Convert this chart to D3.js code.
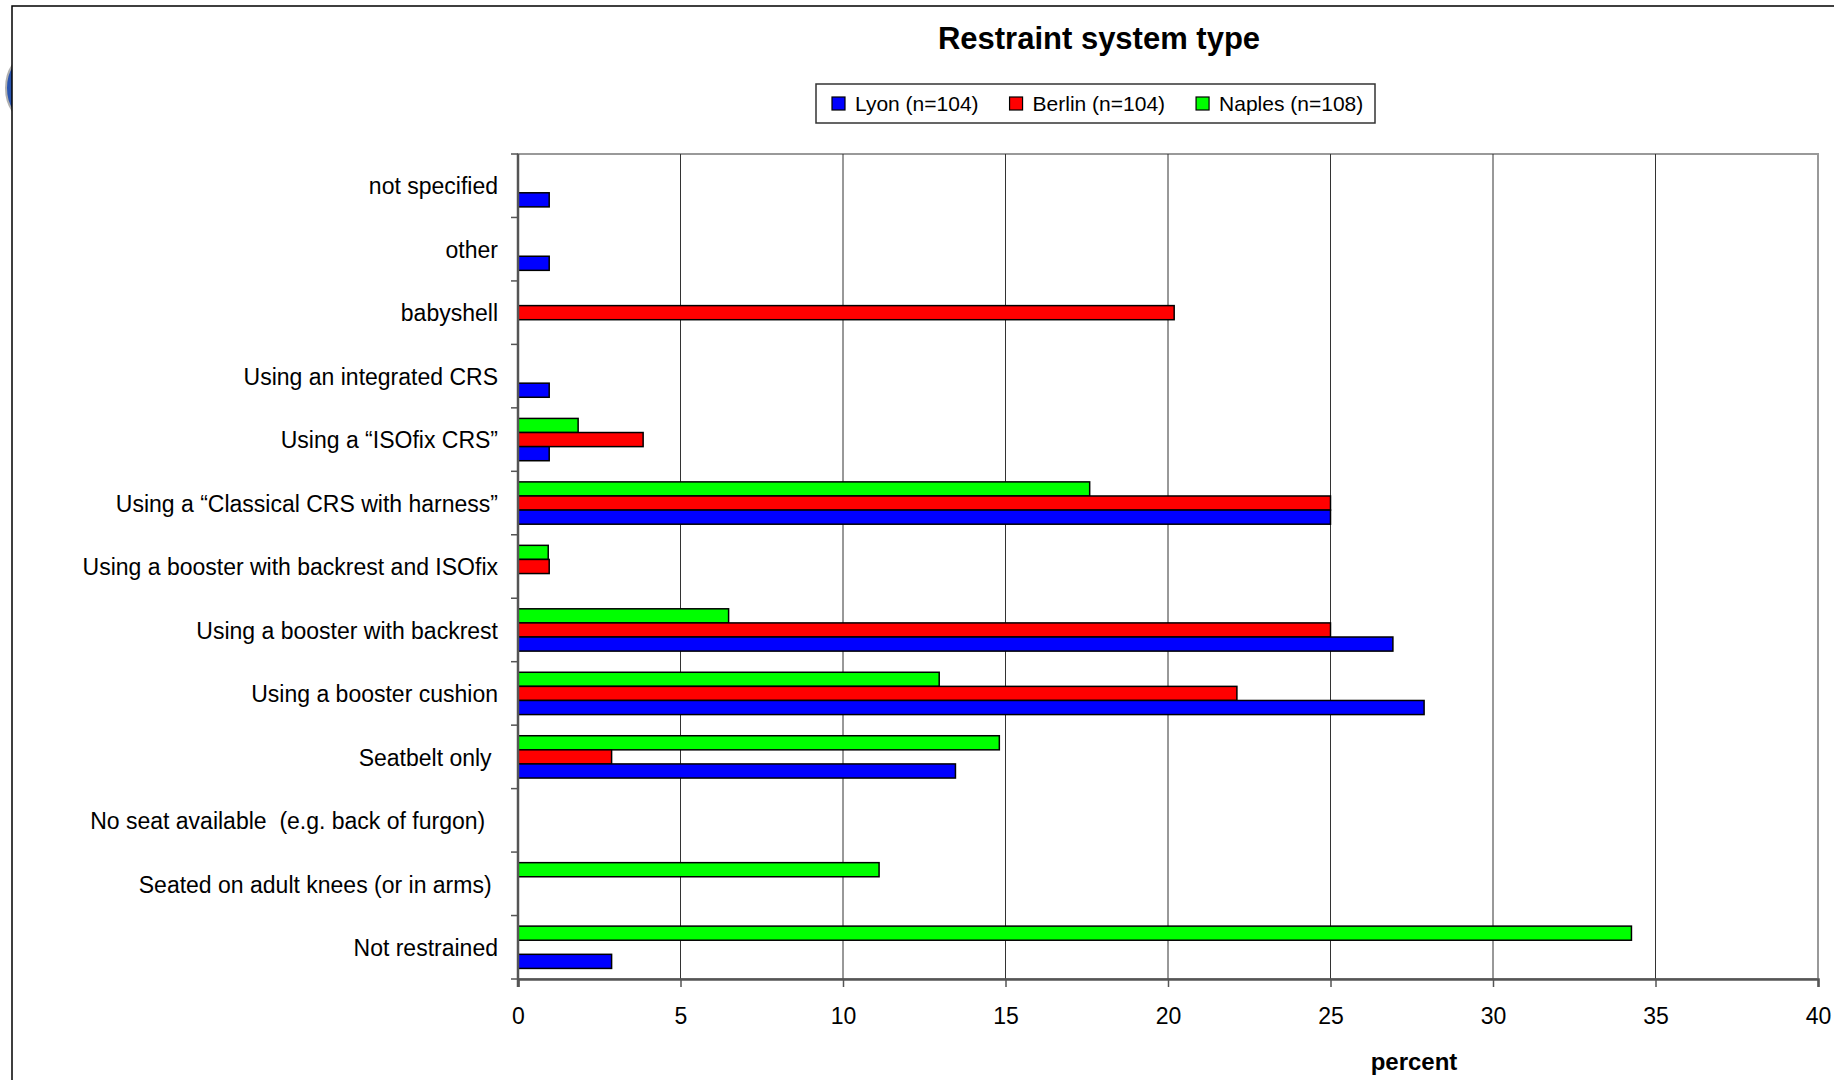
<!DOCTYPE html>
<html>
<head>
<meta charset="utf-8">
<script src="https://cdn.jsdelivr.net/npm/d3@7"></script>
<style>
  html, body { margin: 0; padding: 0; background: #fff; overflow: hidden; }
  svg { display: block; font-family: "Liberation Sans", Arial, sans-serif; }
  text { white-space: pre; }
</style>
</head>
<body>
<svg id="chart" width="1834" height="1080"></svg>
<script>
// ---- data (top to bottom) ----
const categories = [
  "not specified",
  "other",
  "babyshell",
  "Using an integrated CRS",
  "Using a \u201CISOfix CRS\u201D",
  "Using a \u201CClassical CRS with harness\u201D",
  "Using a booster with backrest and ISOfix",
  "Using a booster with backrest",
  "Using a booster cushion",
  "Seatbelt only ",
  "No seat available  (e.g. back of furgon)  ",
  "Seated on adult knees (or in arms) ",
  "Not restrained"
];
const seriesNames = ["Lyon (n=104)", "Berlin (n=104)", "Naples (n=108)"];
const seriesColors = ["#0000ff", "#ff0000", "#00ff00"];
const lyon   = [0.96, 0.96, 0,     0.96, 0.96, 25.0,  0,    26.92, 27.88, 13.46, 0, 0,     2.88];
const berlin = [0,    0,    20.19, 0,    3.85, 25.0,  0.96, 25.0,  22.12, 2.88,  0, 0,     0];
const naples = [0,    0,    0,     0,    1.85, 17.59, 0.93, 6.48,  12.96, 14.81, 0, 11.11, 34.26];
const xTicks = [0, 5, 10, 15, 20, 25, 30, 35, 40];
const titleText = "Restraint system type";
const xAxisTitle = "percent";

// ---- layout ----
const svg = d3.select("#chart");
const plot = { left: 518, right: 1818, top: 154, bottom: 979 };

// logo fragment behind frame
svg.append("ellipse").attr("cx", 28).attr("cy", 88).attr("rx", 22).attr("ry", 32)
  .attr("fill", "#2a55b0").attr("stroke", "#b0b0b0").attr("stroke-width", 2);

// chart frame
svg.append("rect").attr("x", 12).attr("y", 6).attr("width", 2000).attr("height", 1200)
  .attr("fill", "#fff").attr("stroke", "#000").attr("stroke-width", 1.5);

const x = d3.scaleLinear().domain([0, 40]).range([plot.left, plot.right]);
const y0 = d3.scaleBand().domain(categories).range([plot.top, plot.bottom]).paddingInner(0).paddingOuter(0);
// group: Naples (top), Berlin, Lyon (bottom); gap width 50%
const groupOrder = [2, 1, 0];
const bandW = y0.bandwidth();
const groupH = bandW / 1.5;
const y1 = d3.scaleBand().domain(groupOrder).range([(bandW - groupH) / 2, (bandW + groupH) / 2]);

// plot area border (gray)
svg.append("rect").attr("x", plot.left).attr("y", plot.top)
  .attr("width", plot.right - plot.left).attr("height", plot.bottom - plot.top)
  .attr("fill", "#fff").attr("stroke", "#999").attr("stroke-width", 2);

// gridlines
svg.append("g").selectAll("line").data(xTicks.filter(d => d > 0 && d < 40)).join("line")
  .attr("x1", d => x(d)).attr("x2", d => x(d))
  .attr("y1", plot.top).attr("y2", plot.bottom)
  .attr("stroke", "#333").attr("stroke-width", 1);

// bars
const all = [lyon, berlin, naples];
const bars = [];
categories.forEach((c, i) => {
  groupOrder.forEach(s => {
    const v = all[s][i];
    if (v > 0) bars.push({ c, s, v });
  });
});
svg.append("g").selectAll("rect").data(bars).join("rect")
  .attr("x", x(0))
  .attr("y", d => y0(d.c) + y1(d.s))
  .attr("width", d => x(d.v) - x(0))
  .attr("height", y1.bandwidth())
  .attr("fill", d => seriesColors[d.s])
  .attr("stroke", "#000").attr("stroke-width", 1.5);

// x axis
const xAxis = svg.append("g").attr("transform", `translate(0,${plot.bottom})`)
  .call(d3.axisBottom(x).tickValues(xTicks).tickSize(8).tickPadding(21).tickFormat(d3.format("d")));
xAxis.select(".domain").attr("stroke", "#555").attr("stroke-width", 2.5);
xAxis.selectAll(".tick line").attr("stroke", "#555").attr("stroke-width", 1.5);
xAxis.selectAll(".tick text").attr("font-size", 23).attr("fill", "#000")
  .attr("font-family", "Liberation Sans, Arial, sans-serif");

// y axis (category boundaries ticks)
const yAxisG = svg.append("g").attr("transform", `translate(${plot.left},0)`);
yAxisG.append("line").attr("x1", 0).attr("x2", 0).attr("y1", plot.top).attr("y2", plot.bottom + 8)
  .attr("stroke", "#555").attr("stroke-width", 2.5);
const boundaries = categories.map(c => y0(c)).concat([plot.bottom]);
yAxisG.selectAll("line.tk").data(boundaries).join("line").attr("class", "tk")
  .attr("x1", -7).attr("x2", 0).attr("y1", d => d).attr("y2", d => d)
  .attr("stroke", "#555").attr("stroke-width", 1.5);
yAxisG.selectAll("text").data(categories).join("text")
  .attr("x", -20).attr("y", d => y0(d) + bandW / 2).attr("dy", "0.38em")
  .attr("text-anchor", "end").attr("font-size", 23).attr("fill", "#000")
  .text(d => d);

// title
svg.append("text").attr("x", 1099).attr("y", 49).attr("text-anchor", "middle")
  .attr("font-size", 31).attr("font-weight", "bold").text(titleText);

// x axis title
svg.append("text").attr("x", 1414).attr("y", 1070).attr("text-anchor", "middle")
  .attr("font-size", 24).attr("font-weight", "bold").text(xAxisTitle);

// legend
const lg = svg.append("g");
lg.append("rect").attr("x", 816).attr("y", 84).attr("width", 559).attr("height", 39)
  .attr("fill", "#fff").attr("stroke", "#333").attr("stroke-width", 1.5);
let lx = 832;
seriesNames.forEach((n, i) => {
  lg.append("rect").attr("x", lx).attr("y", 97).attr("width", 13).attr("height", 13)
    .attr("fill", seriesColors[i]).attr("stroke", "#000").attr("stroke-width", 1.2);
  const t = lg.append("text").attr("x", lx + 23).attr("y", 111).attr("font-size", 21).text(n);
  lx = lx + 23 + t.node().getComputedTextLength() + 31;
});
</script>
</body>
</html>
